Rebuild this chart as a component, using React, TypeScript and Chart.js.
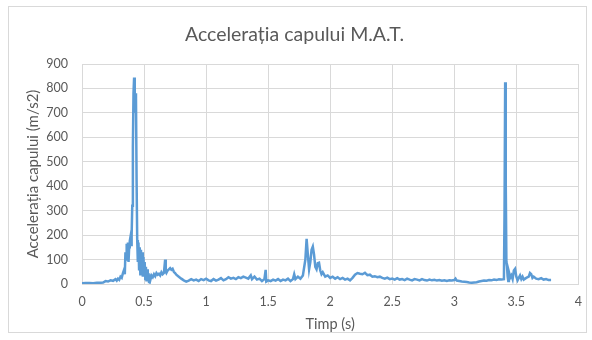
import React, { useEffect, useRef } from "react";
import { Chart, registerables } from "chart.js";

Chart.register(...registerables);

const titleText = "Accelerația capului M.A.T.";
const xAxisTitle = "Timp (s)";
const yAxisTitle = "Accelerația capului (m/s2)";

const times = [
  0.0, 0.03, 0.06, 0.09, 0.12, 0.15, 0.17, 0.19, 0.21, 0.23, 0.25, 0.27, 0.28, 0.29, 0.3, 0.31, 0.32, 0.33, 0.34, 0.345,
  0.35, 0.355, 0.36, 0.365, 0.37, 0.375, 0.38, 0.385, 0.39, 0.395, 0.4, 0.405, 0.41, 0.415, 0.42, 0.425, 0.43, 0.435, 0.44, 0.445,
  0.45, 0.455, 0.46, 0.465, 0.47, 0.475, 0.48, 0.485, 0.49, 0.495, 0.5, 0.505, 0.51, 0.515, 0.52, 0.525, 0.53, 0.535, 0.54, 0.545,
  0.55, 0.56, 0.57, 0.58, 0.59, 0.6, 0.61, 0.62, 0.63, 0.64, 0.65, 0.66, 0.67, 0.675, 0.68, 0.69, 0.7, 0.71, 0.72, 0.73,
  0.74, 0.75, 0.76, 0.78, 0.8, 0.82, 0.84, 0.86, 0.88, 0.9, 0.92, 0.94, 0.96, 0.98, 1.0, 1.02, 1.04, 1.06, 1.08, 1.1,
  1.12, 1.14, 1.16, 1.18, 1.2, 1.22, 1.24, 1.26, 1.28, 1.3, 1.32, 1.34, 1.36, 1.37, 1.39, 1.41, 1.43, 1.45, 1.47, 1.48,
  1.485, 1.5, 1.52, 1.54, 1.56, 1.58, 1.6, 1.62, 1.64, 1.66, 1.68, 1.7, 1.71, 1.72, 1.74, 1.76, 1.78, 1.8, 1.81, 1.82,
  1.83, 1.84, 1.85, 1.86, 1.87, 1.88, 1.89, 1.9, 1.91, 1.92, 1.93, 1.94, 1.96, 1.98, 2.0, 2.02, 2.04, 2.06, 2.08, 2.1,
  2.12, 2.14, 2.16, 2.18, 2.2, 2.22, 2.24, 2.26, 2.28, 2.3, 2.32, 2.34, 2.36, 2.38, 2.4, 2.42, 2.44, 2.46, 2.48, 2.5,
  2.52, 2.54, 2.56, 2.58, 2.6, 2.62, 2.64, 2.66, 2.68, 2.7, 2.72, 2.74, 2.76, 2.78, 2.8, 2.82, 2.84, 2.86, 2.88, 2.9,
  2.92, 2.94, 2.96, 2.98, 3.0, 3.01, 3.02, 3.04, 3.06, 3.08, 3.1, 3.12, 3.14, 3.16, 3.18, 3.2, 3.22, 3.24, 3.26, 3.28,
  3.3, 3.32, 3.34, 3.36, 3.38, 3.4, 3.405, 3.41, 3.415, 3.42, 3.425, 3.43, 3.435, 3.44, 3.445, 3.45, 3.46, 3.47, 3.48, 3.49,
  3.5, 3.51, 3.52, 3.53, 3.54, 3.55, 3.56, 3.58, 3.6, 3.61, 3.62, 3.63, 3.64, 3.66, 3.68, 3.7, 3.72, 3.74, 3.76, 3.78,
];

const acceleration = [
  3, 4, 4, 3, 5, 5, 6, 12, 10, 15, 13, 20, 14, 22, 17, 30, 25, 45, 60, 40,
  130, 100, 165, 120, 170, 90, 150, 175, 190, 160, 200, 320, 560, 780, 845, 700, 780, 760, 420, 180,
  90, 170, 60, 150, 40, 140, 70, 130, 30, 110, 50, 90, 20, 70, 10, 60, 25, 45, 8, 40,
  15, 35, 28, 40, 32, 45, 38, 42, 35, 48, 40, 45, 100, 50, 45, 55, 60, 65, 58, 62,
  50, 45, 38, 30, 22, 15, 10, 14, 20, 15, 18, 12, 20, 16, 22, 15, 12, 20, 14, 18,
  24, 15, 20, 28, 22, 25, 20, 28, 24, 30, 26, 22, 35, 20, 30, 18, 22, 12, 20, 58,
  10, 15, 12, 18, 14, 20, 12, 18, 15, 22, 12, 20, 40, 20, 30, 22, 35, 100, 185, 120,
  60, 90, 140, 153, 120, 70, 60, 85, 87, 55, 40, 48, 30, 35, 25, 30, 22, 28, 20, 25,
  18, 22, 15, 25, 38, 45, 42, 40, 46, 36, 38, 30, 32, 28, 30, 25, 22, 26, 20, 22,
  18, 24, 18, 20, 16, 22, 18, 15, 20, 18, 15, 20, 16, 14, 18, 15, 17, 14, 16, 13,
  15, 12, 15, 14, 16, 22, 14, 12, 10, 9, 8, 6, 5, 6, 7, 10, 12, 14, 13, 16,
  15, 18, 16, 19, 18, 20, 300, 825, 400, 90, 70, 30, 12, 50, 40, 25, 35, 20, 55, 62,
  30, 15, 25, 35, 20, 30, 18, 25, 30, 45, 40, 25, 30, 22, 20, 24, 18, 20, 16, 16,
];

const FONT = "Lato, 'Open Sans', sans-serif";
const TEXT_COLOR = "#595959";
const GRID_COLOR = "#d9d9d9";

export default function App() {
  const canvasRef = useRef<HTMLCanvasElement | null>(null);

  useEffect(() => {
    if (!canvasRef.current) return;
    const points = times.map((t, i) => ({ x: t, y: acceleration[i] }));
    const chart = new Chart(canvasRef.current, {
      type: "scatter",
      data: {
        datasets: [
          {
            data: points,
            showLine: true,
            borderColor: "#5b9bd5",
            backgroundColor: "#5b9bd5",
            borderWidth: 2.5,
            pointRadius: 0,
            tension: 0,
          },
        ],
      },
      options: {
        responsive: false,
        animation: false,
        layout: { padding: { left: 9, right: 12, top: 0, bottom: 0 } },
        plugins: {
          legend: { display: false },
          tooltip: { enabled: false },
          title: {
            display: true,
            text: titleText,
            color: TEXT_COLOR,
            font: { family: FONT, size: 19.5, weight: "normal" },
            padding: { top: 23, bottom: 17.6 },
          },
        },
        scales: {
          x: {
            type: "linear",
            min: 0,
            max: 4,
            ticks: {
              stepSize: 0.5,
              color: TEXT_COLOR,
              font: { family: FONT, size: 12.5 },
              padding: 10,
              maxRotation: 0,
              callback: (v: any) => String(Number(v)),
            },
            grid: { color: GRID_COLOR, drawTicks: false },
            border: { color: GRID_COLOR },
            title: {
              display: true,
              text: xAxisTitle,
              color: TEXT_COLOR,
              font: { family: FONT, size: 14.5 },
              padding: { top: 0, bottom: 6.5 },
            },
            afterFit: (scale: any) => {
              scale.height = 56;
            },
          },
          y: {
            type: "linear",
            min: 0,
            max: 900,
            ticks: {
              stepSize: 100,
              color: TEXT_COLOR,
              font: { family: FONT, size: 12.5 },
              padding: 14,
            },
            grid: { color: GRID_COLOR, drawTicks: false },
            border: { color: GRID_COLOR },
            title: {
              display: true,
              text: yAxisTitle,
              color: TEXT_COLOR,
              font: { family: FONT, size: 15 },
              padding: { top: 15, bottom: 0 },
            },
            afterFit: (scale: any) => {
              scale.width = 73;
            },
          },
        },
      },
    });
    return () => chart.destroy();
  }, []);

  return (
    <div
      style={{
        position: "fixed",
        left: 0,
        top: 0,
        width: 592,
        height: 340,
        background: "#ffffff",
      }}
    >
      <div
        style={{
          position: "absolute",
          left: 8,
          top: 6,
          width: 579,
          height: 327,
          border: "1px solid #d9d9d9",
          boxSizing: "border-box",
          pointerEvents: "none",
        }}
      />
      <canvas
        ref={canvasRef}
        width={592}
        height={340}
        style={{ position: "absolute", left: 0, top: 0, width: 592, height: 340 }}
      />
    </div>
  );
}
